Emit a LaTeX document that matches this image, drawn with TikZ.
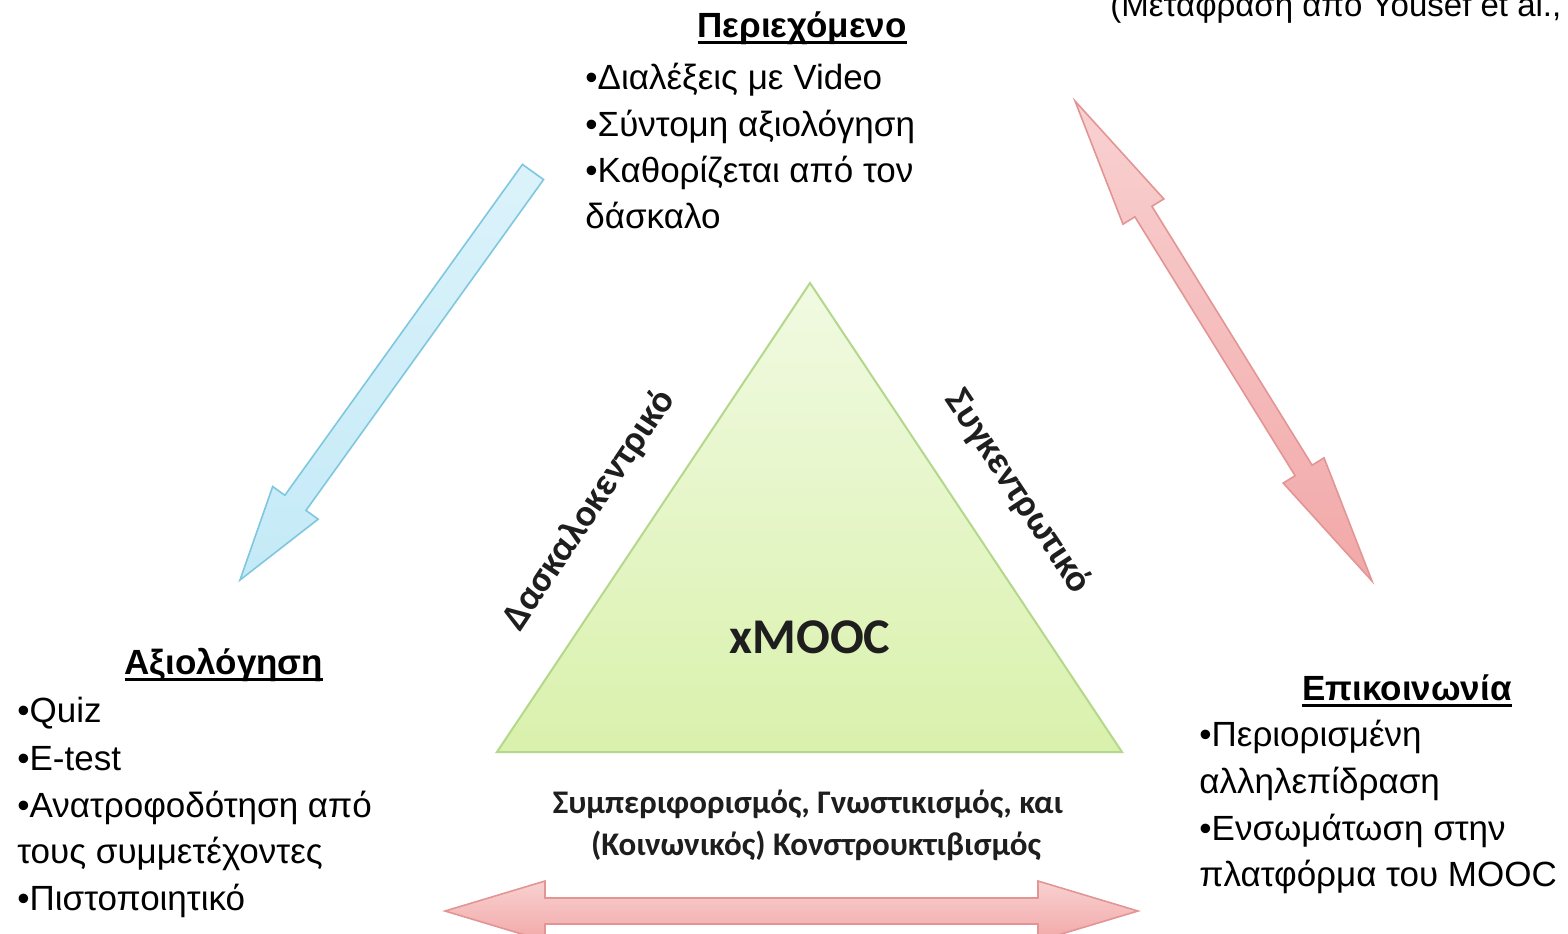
\documentclass[tikz,border=0pt]{standalone}
\usepackage{fontspec}
\setmainfont{Liberation Sans}
\newfontfamily\calfont{Carlito}
\usetikzlibrary{calc}
\definecolor{bluefill}{HTML}{C4EAF7}
\definecolor{blueedge}{HTML}{7FC7DF}
\definecolor{redfill}{HTML}{F6BDBD}
\definecolor{redfilldark}{HTML}{F2A8A8}
\definecolor{rededge}{HTML}{E39595}
\definecolor{trifilltop}{HTML}{F1FAE2}
\definecolor{trifillbot}{HTML}{D9F1AC}
\definecolor{triedge}{HTML}{B3D88C}
\definecolor{dark}{HTML}{1E1E1E}
\newcommand\ulx[1]{\setbox0=\hbox{#1}\rlap{\rule[-0.19em]{\wd0}{0.085em}}\box0}
\tikzset{
  txt/.style={anchor=base west, inner sep=0pt, font=\fontsize{17.5}{21}\selectfont},
  headtxt/.style={anchor=base, inner sep=0pt, font=\fontsize{17.5}{21}\selectfont\bfseries},
  tritxt/.style={inner sep=0pt, text=dark, font=\calfont\bfseries\fontsize{19}{23}\selectfont},
  bottxt/.style={tritxt, anchor=base, font=\calfont\bfseries\fontsize{16.5}{20}\selectfont},
  bluearrow/.style={draw=blueedge, line width=0.8pt, line join=miter, top color=bluefill!60!white, bottom color=bluefill},
  redarrow/.style={draw=rededge, line width=0.8pt, line join=miter, top color=redfill!70!white, bottom color=redfilldark},
}
\begin{document}
\begin{tikzpicture}[x=0.5pt,y=-0.5pt]
\useasboundingbox (0,0) rectangle (1568,933);
\fill[white] (0,0) rectangle (1568,933);

% ---------- triangle ----------
\coordinate (apex) at (810,283);
\coordinate (bl) at (497,752);
\coordinate (br) at (1122,752);
\path[draw=triedge, line width=1pt, top color=trifilltop, bottom color=trifillbot]
  (apex) -- (br) -- (bl) -- cycle;
\node[tritxt, font=\calfont\bfseries\fontsize{25}{30}\selectfont] (xmooc) at (810,637) {xMOOC};
\node[tritxt, rotate=56.3] (dask) at (589,510) {Δασκαλοκεντρικό};
\node[tritxt, rotate=-56.4] (sygk) at (1018,492) {Συγκεντρωτικό};
\node[bottxt] (th1) at (808,813) {Συμπεριφορισμός, Γνωστικισμός, και};
\node[bottxt] (th2) at (816,855) {(Κοινωνικός) Κονστρουκτιβισμός};

% ---------- blue arrow (single) ----------
\coordinate (bA) at (533,172);
\coordinate (bB) at (240,580);
\coordinate (bH) at ($(bB)!47.5pt!(bA)$);
\path[bluearrow]
  ($(bA)!6.5pt!90:(bB)$) -- ($(bH)!6.5pt!90:(bB)$) -- ($(bH)!14pt!90:(bB)$) -- (bB)
  -- ($(bH)!14pt!-90:(bB)$) -- ($(bH)!6.5pt!-90:(bB)$) -- ($(bA)!6.5pt!-90:(bB)$) -- cycle;

% ---------- right red double arrow ----------
\coordinate (rA) at (1075,101);
\coordinate (rB) at (1372,581);
\coordinate (rH1) at ($(rA)!65pt!(rB)$);
\coordinate (rH2) at ($(rB)!65pt!(rA)$);
\path[redarrow]
  (rA) -- ($(rH1)!12pt!90:(rB)$) -- ($(rH1)!5pt!90:(rB)$) -- ($(rH2)!5pt!90:(rB)$)
  -- ($(rH2)!12pt!90:(rB)$) -- (rB) -- ($(rH2)!12pt!-90:(rB)$) -- ($(rH2)!5pt!-90:(rB)$)
  -- ($(rH1)!5pt!-90:(rB)$) -- ($(rH1)!12pt!-90:(rB)$) -- cycle;

% ---------- bottom red double arrow ----------
\coordinate (hA) at (445,911);
\coordinate (hB) at (1138,911);
\coordinate (hH1) at ($(hA)!50pt!(hB)$);
\coordinate (hH2) at ($(hB)!50pt!(hA)$);
\path[redarrow]
  (hA) -- ($(hH1)!15pt!90:(hB)$) -- ($(hH1)!6.5pt!90:(hB)$) -- ($(hH2)!6.5pt!90:(hB)$)
  -- ($(hH2)!15pt!90:(hB)$) -- (hB) -- ($(hH2)!15pt!-90:(hB)$) -- ($(hH2)!6.5pt!-90:(hB)$)
  -- ($(hH1)!6.5pt!-90:(hB)$) -- ($(hH1)!15pt!-90:(hB)$) -- cycle;

% ---------- top right caption ----------
\node[txt, font=\fontsize{16.5}{20}\selectfont] (cap) at (1110,16) {(Μετάφραση από Yousef et al.,};

% ---------- Περιεχόμενο ----------
\node[headtxt] (h1) at (802,37) {\ulx{Περιεχόμενο}};
\node[txt] (p1) at (585,89) {•Διαλέξεις με Video};
\node[txt] (p2) at (585,136) {•Σύντομη αξιολόγηση};
\node[txt] (p3) at (585,182) {•Καθορίζεται από τον};
\node[txt] (p4) at (585,228) {δάσκαλο};

% ---------- Αξιολόγηση ----------
\node[headtxt] (h2) at (224,674) {\ulx{Αξιολόγηση}};
\node[txt] (a1) at (17,722) {•Quiz};
\node[txt] (a2) at (17,770) {•E-test};
\node[txt] (a3) at (17,817) {•Ανατροφοδότηση από};
\node[txt] (a4) at (17,863) {τους συμμετέχοντες};
\node[txt] (a5) at (17,910) {•Πιστοποιητικό};

% ---------- Επικοινωνία ----------
\node[headtxt] (h3) at (1407,700) {\ulx{Επικοινωνία}};
\node[txt] (e1) at (1199,746) {•Περιορισμένη};
\node[txt] (e2) at (1199,793) {αλληλεπίδραση};
\node[txt] (e3) at (1199,840) {•Ενσωμάτωση στην};
\node[txt] (e4) at (1199,886) {πλατφόρμα του MOOC};
\end{tikzpicture}
\end{document}
